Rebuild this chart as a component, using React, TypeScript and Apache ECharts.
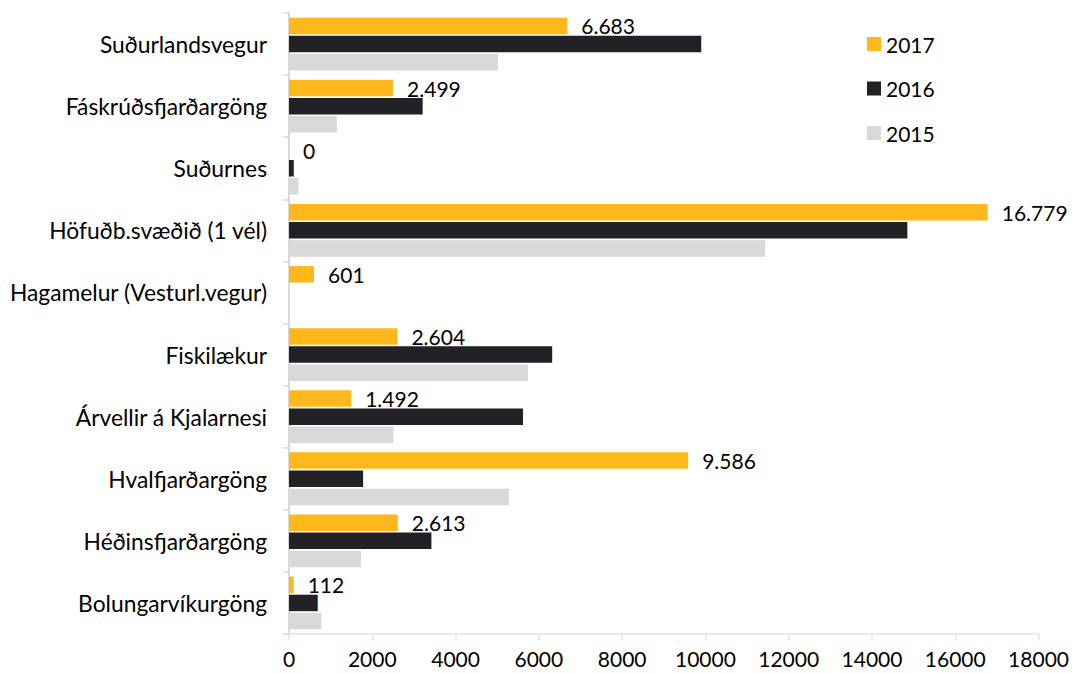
import React, { useEffect, useRef } from "react";
import * as echarts from "echarts";

const categories = [
  "Suðurlandsvegur",
  "Fáskrúðsfjarðargöng",
  "Suðurnes",
  "Höfuðb.svæðið (1 vél)",
  "Hagamelur (Vesturl.vegur)",
  "Fiskilækur",
  "Árvellir á Kjalarnesi",
  "Hvalfjarðargöng",
  "Héðinsfjarðargöng",
  "Bolungarvíkurgöng",
];
const values2017 = [6683, 2499, 0, 16779, 601, 2604, 1492, 9586, 2613, 112];
const values2016 = [9900, 3210, 115, 14850, 0, 6320, 5620, 1780, 3420, 690];
const values2015 = [5020, 1150, 230, 11430, 0, 5740, 2510, 5280, 1730, 780];
const seriesNames = ["2017", "2016", "2015"];
const xTicks = { min: 0, max: 18000, interval: 2000 };

const FONT = "Lato";

function fmt(v: number): string {
  return String(Math.round(v)).replace(/\B(?=(\d{3})+(?!\d))/g, ".");
}

export default function App() {
  const ref = useRef<HTMLDivElement>(null);
  useEffect(() => {
    if (!ref.current) return;
    const chart = echarts.init(ref.current, null, { renderer: "svg" });
    const colors = ["#FFB81C", "#222126", "#D9D9D9"];
    const data = [values2017, values2016, values2015];
    chart.setOption({
      animation: false,
      textStyle: { fontFamily: FONT },
      grid: { left: 289, right: 32, top: 13, bottom: 39, containLabel: false },
      legend: {
        data: seriesNames,
        orient: "vertical",
        left: 862,
        top: 28,
        itemWidth: 14,
        itemHeight: 14,
        itemGap: 22.5,
        itemTextGap: 6,
        icon: "rect",
        textStyle: { fontSize: 21, color: "#000", fontFamily: FONT, lineHeight: 22 },
      },
      xAxis: {
        type: "value",
        min: xTicks.min,
        max: xTicks.max,
        interval: xTicks.interval,
        axisLine: { show: true, lineStyle: { color: "#E8E5DC", width: 1.5 } },
        axisTick: { show: true, length: 6, lineStyle: { color: "#E8E5DC", width: 1.5 } },
        splitLine: { show: false },
        axisLabel: {
          fontSize: 21,
          color: "#000",
          fontFamily: FONT,
          margin: 14,
          formatter: (v: number) => String(v),
        },
      },
      yAxis: {
        type: "category",
        data: categories,
        inverse: true,
        axisLine: { show: true, lineStyle: { color: "#D9D9D9", width: 2 } },
        axisTick: { show: true, length: 6, lineStyle: { color: "#D9D9D9", width: 1.5 } },
        axisLabel: { fontSize: 22.8, color: "#000", fontFamily: FONT, margin: 22 },
      },
      series: seriesNames.map((name, i) => ({
        name,
        type: "bar",
        data: data[i],
        itemStyle: { color: colors[i] },
        barCategoryGap: "15%",
        barGap: "10%",
        label:
          i === 0
            ? {
                show: true,
                position: "right",
                distance: 14,
                fontSize: 21,
                color: "#000",
                fontFamily: FONT,
                formatter: (p: any) => fmt(p.value),
              }
            : { show: false },
      })),
    });
    return () => chart.dispose();
  }, []);
  return (
    <div
      ref={ref}
      style={{ position: "fixed", left: 0, top: 0, width: 1072, height: 673, background: "#fff" }}
    />
  );
}
